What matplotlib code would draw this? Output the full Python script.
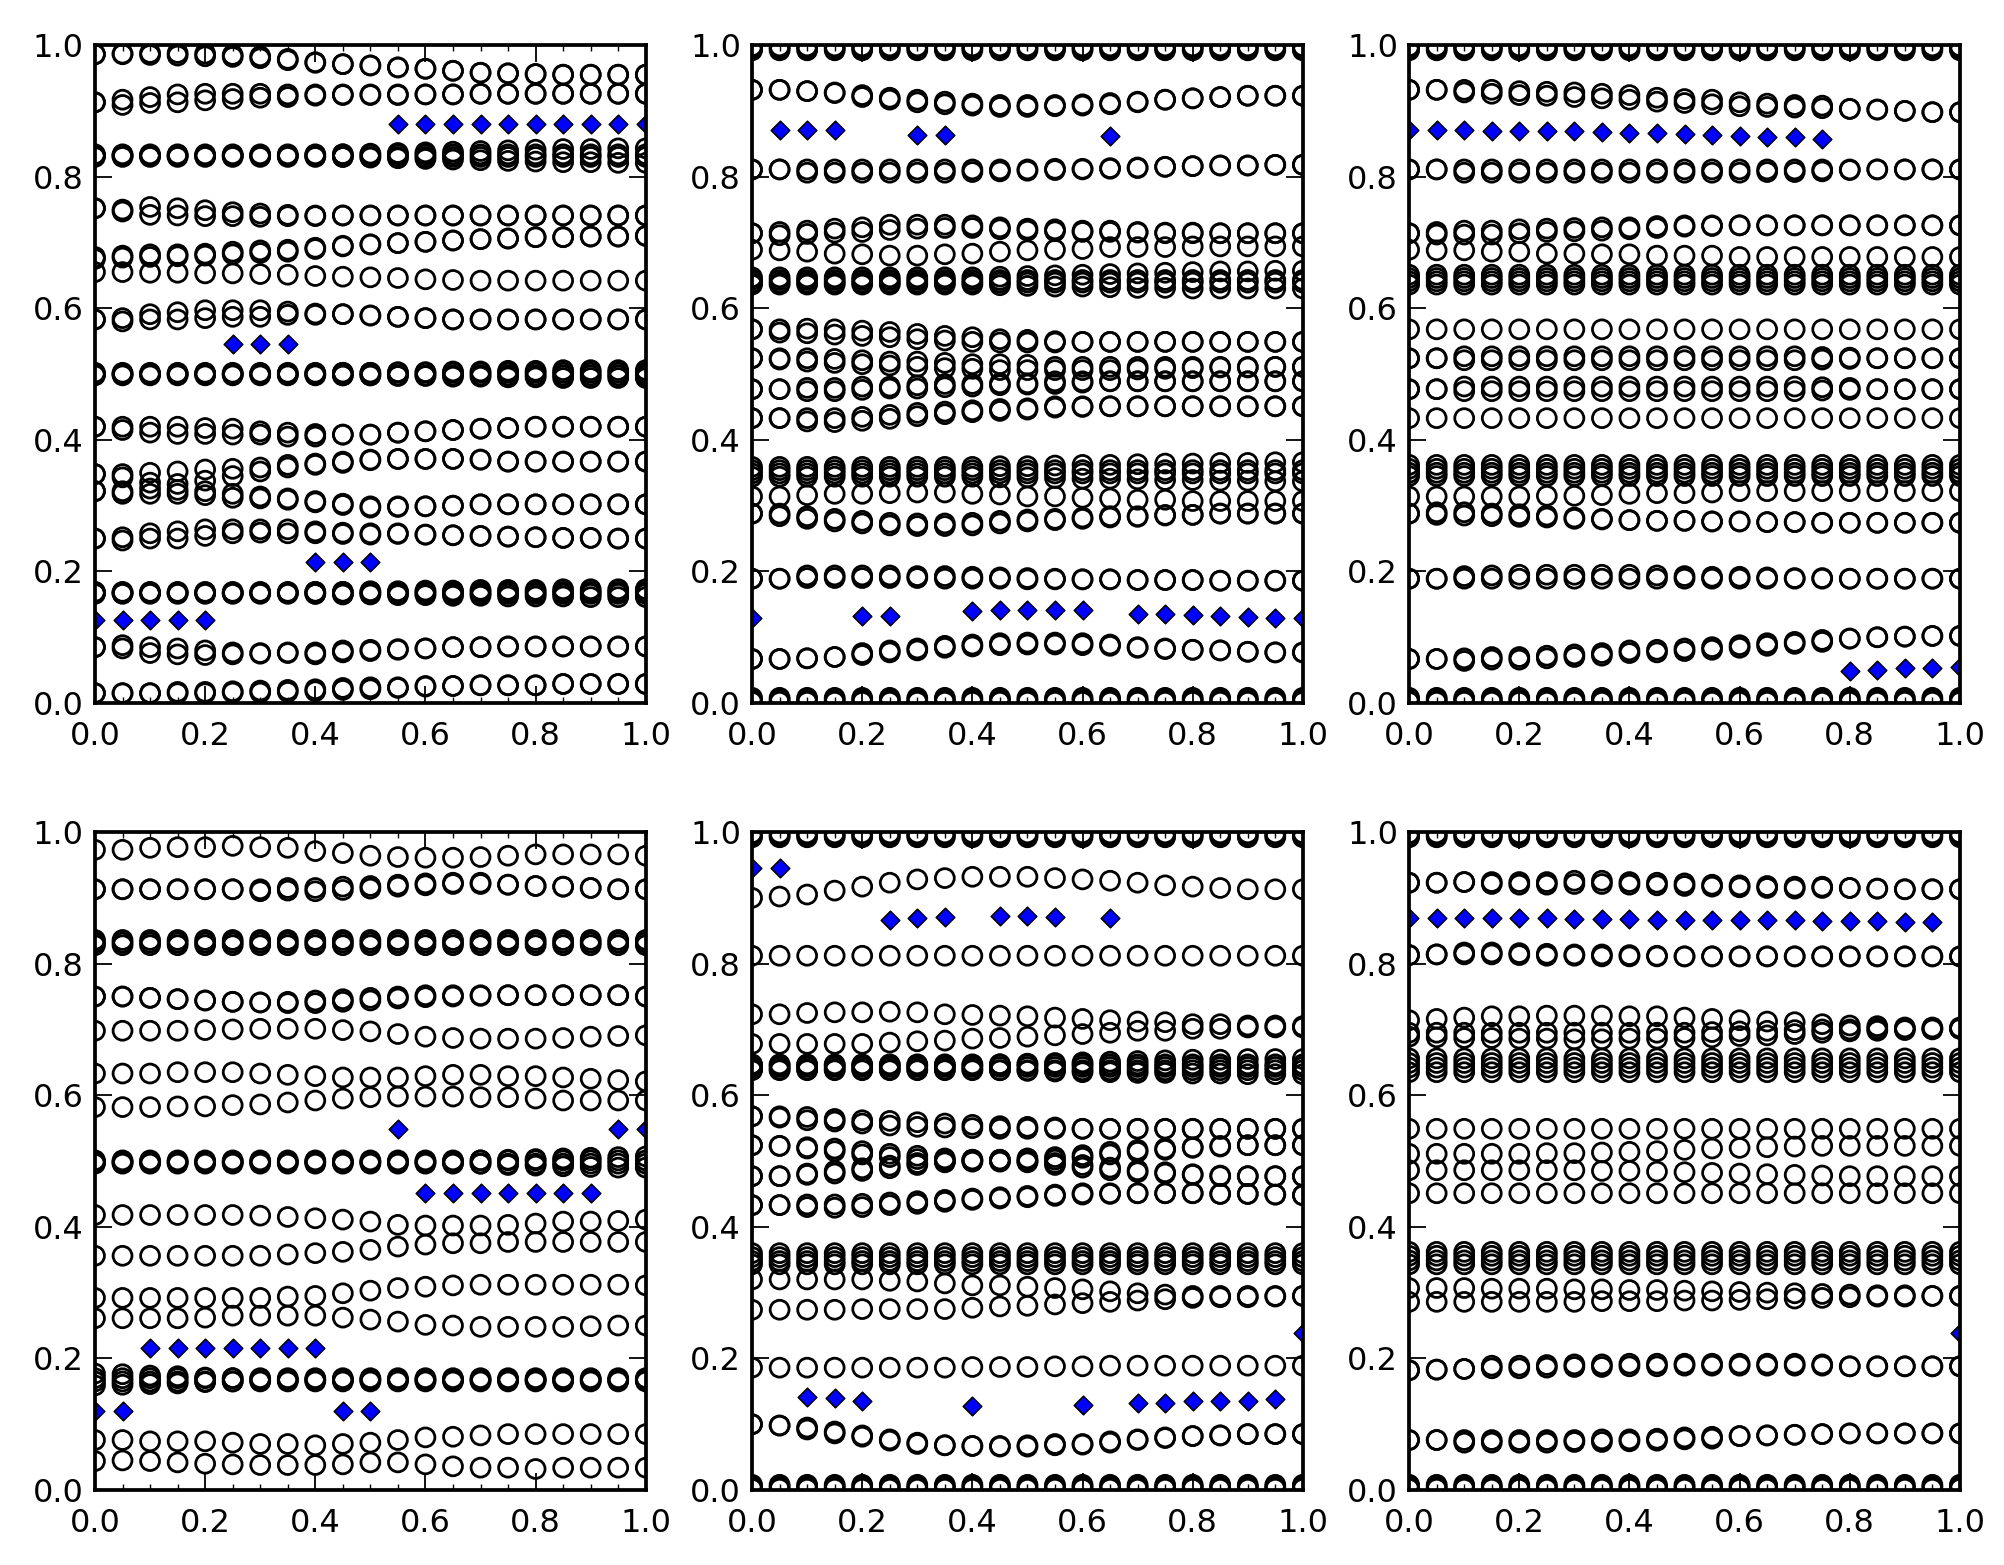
import matplotlib
matplotlib.use("Agg")
import matplotlib.pyplot as plt
from matplotlib.ticker import MultipleLocator

x_vals = [0.0, 0.05, 0.1, 0.15, 0.2, 0.25, 0.3, 0.35, 0.4, 0.45, 0.5,
          0.55, 0.6, 0.65, 0.7, 0.75, 0.8, 0.85, 0.9, 0.95, 1.0]

# rows of open circles at the edges of the right-hand panels
edge_rows = [[0.998] * 21, [0.995] * 21, [0.992] * 21,
             [0.002] * 21, [0.005] * 21, [0.008] * 21]

# ---- panel 1 (top left)
p1_rings = [
    [0.986, 0.986, 0.985, 0.984, 0.983, 0.982, 0.980, 0.977, 0.973, 0.971, 0.969, 0.966, 0.964, 0.961, 0.958, 0.957, 0.956, 0.955, 0.955, 0.955, 0.955],
    [0.986, 0.987, 0.988, 0.988, 0.987, 0.985, 0.983, 0.979, 0.974, 0.971, 0.969, 0.966, 0.964, 0.961, 0.958, 0.957, 0.956, 0.955, 0.955, 0.955, 0.955],
    [0.913, 0.917, 0.921, 0.925, 0.926, 0.926, 0.926, 0.925, 0.925, 0.925, 0.925, 0.925, 0.925, 0.925, 0.926, 0.926, 0.926, 0.926, 0.926, 0.926, 0.926],
    [0.913, 0.909, 0.912, 0.913, 0.916, 0.918, 0.920, 0.921, 0.923, 0.924, 0.924, 0.924, 0.925, 0.925, 0.926, 0.926, 0.926, 0.926, 0.926, 0.926, 0.926],
    [0.834] * 21,
    [0.830] * 21,
    [0.832, 0.832, 0.832, 0.832, 0.832, 0.832, 0.832, 0.832, 0.833, 0.834, 0.835, 0.836, 0.837, 0.838, 0.839, 0.840, 0.841, 0.842, 0.842, 0.843, 0.843],
    [0.832, 0.832, 0.832, 0.832, 0.832, 0.832, 0.832, 0.832, 0.831, 0.830, 0.829, 0.828, 0.827, 0.826, 0.825, 0.824, 0.823, 0.822, 0.822, 0.821, 0.821],
    [0.752, 0.750, 0.754, 0.752, 0.749, 0.746, 0.744, 0.742, 0.741, 0.741, 0.741, 0.741, 0.741, 0.741, 0.741, 0.741, 0.741, 0.741, 0.741, 0.741, 0.741],
    [0.752, 0.747, 0.742, 0.741, 0.740, 0.740, 0.739, 0.740, 0.740, 0.741, 0.741, 0.741, 0.741, 0.741, 0.741, 0.741, 0.741, 0.741, 0.741, 0.741, 0.741],
    [0.678, 0.680, 0.682, 0.682, 0.683, 0.686, 0.688, 0.689, 0.692, 0.695, 0.697, 0.699, 0.701, 0.703, 0.705, 0.706, 0.708, 0.708, 0.709, 0.709, 0.710],
    [0.675, 0.677, 0.678, 0.679, 0.680, 0.682, 0.684, 0.686, 0.690, 0.694, 0.697, 0.699, 0.701, 0.703, 0.705, 0.706, 0.708, 0.708, 0.709, 0.709, 0.710],
    [0.655, 0.655, 0.654, 0.654, 0.653, 0.653, 0.652, 0.651, 0.649, 0.648, 0.647, 0.646, 0.644, 0.643, 0.642, 0.642, 0.642, 0.642, 0.642, 0.642, 0.642],
    [0.583, 0.585, 0.591, 0.594, 0.597, 0.597, 0.597, 0.595, 0.592, 0.591, 0.589, 0.587, 0.585, 0.583, 0.583, 0.583, 0.583, 0.583, 0.583, 0.583, 0.583],
    [0.583, 0.580, 0.583, 0.583, 0.585, 0.587, 0.587, 0.590, 0.590, 0.591, 0.589, 0.587, 0.585, 0.583, 0.583, 0.583, 0.583, 0.583, 0.583, 0.583, 0.583],
    [0.502] * 21,
    [0.498] * 21,
    [0.500, 0.500, 0.500, 0.500, 0.500, 0.500, 0.500, 0.501, 0.501, 0.502, 0.502, 0.503, 0.503, 0.504, 0.504, 0.505, 0.505, 0.506, 0.506, 0.506, 0.506],
    [0.500, 0.500, 0.500, 0.500, 0.500, 0.500, 0.500, 0.499, 0.499, 0.498, 0.498, 0.497, 0.497, 0.496, 0.496, 0.495, 0.495, 0.494, 0.494, 0.494, 0.494],
    [0.420, 0.420, 0.420, 0.420, 0.418, 0.417, 0.413, 0.411, 0.409, 0.408, 0.408, 0.411, 0.413, 0.415, 0.417, 0.418, 0.420, 0.420, 0.420, 0.420, 0.420],
    [0.420, 0.415, 0.411, 0.409, 0.409, 0.408, 0.408, 0.405, 0.405, 0.408, 0.408, 0.411, 0.413, 0.415, 0.417, 0.418, 0.420, 0.420, 0.420, 0.420, 0.420],
    [0.348, 0.348, 0.350, 0.352, 0.355, 0.356, 0.358, 0.362, 0.364, 0.367, 0.370, 0.371, 0.371, 0.371, 0.370, 0.367, 0.367, 0.367, 0.367, 0.367, 0.367],
    [0.348, 0.343, 0.335, 0.333, 0.338, 0.345, 0.352, 0.358, 0.362, 0.365, 0.369, 0.371, 0.371, 0.371, 0.370, 0.367, 0.367, 0.367, 0.367, 0.367, 0.367],
    [0.322, 0.322, 0.326, 0.324, 0.322, 0.318, 0.314, 0.311, 0.307, 0.303, 0.299, 0.299, 0.299, 0.300, 0.302, 0.302, 0.302, 0.302, 0.302, 0.302, 0.302],
    [0.322, 0.318, 0.318, 0.318, 0.316, 0.312, 0.311, 0.309, 0.305, 0.301, 0.297, 0.298, 0.299, 0.300, 0.302, 0.302, 0.302, 0.302, 0.302, 0.302, 0.302],
    [0.250, 0.252, 0.258, 0.261, 0.264, 0.264, 0.264, 0.264, 0.261, 0.259, 0.258, 0.258, 0.256, 0.255, 0.254, 0.253, 0.252, 0.251, 0.251, 0.250, 0.250],
    [0.250, 0.247, 0.250, 0.250, 0.254, 0.258, 0.259, 0.258, 0.258, 0.257, 0.256, 0.257, 0.256, 0.255, 0.254, 0.253, 0.252, 0.251, 0.251, 0.250, 0.250],
    [0.169] * 21,
    [0.166] * 21,
    [0.168, 0.168, 0.168, 0.168, 0.168, 0.168, 0.168, 0.168, 0.169, 0.169, 0.170, 0.170, 0.171, 0.171, 0.172, 0.172, 0.172, 0.173, 0.173, 0.173, 0.173],
    [0.167, 0.167, 0.167, 0.167, 0.167, 0.167, 0.167, 0.167, 0.166, 0.165, 0.165, 0.164, 0.164, 0.163, 0.163, 0.162, 0.162, 0.162, 0.161, 0.161, 0.161],
    [0.085, 0.088, 0.085, 0.083, 0.080, 0.077, 0.076, 0.077, 0.077, 0.080, 0.081, 0.082, 0.083, 0.085, 0.085, 0.086, 0.086, 0.086, 0.086, 0.086, 0.086],
    [0.085, 0.083, 0.076, 0.074, 0.073, 0.074, 0.075, 0.076, 0.074, 0.077, 0.079, 0.081, 0.083, 0.085, 0.085, 0.086, 0.086, 0.086, 0.086, 0.086, 0.086],
    [0.015, 0.015, 0.015, 0.017, 0.017, 0.018, 0.019, 0.020, 0.021, 0.023, 0.024, 0.024, 0.026, 0.026, 0.027, 0.027, 0.027, 0.029, 0.029, 0.029, 0.029],
    [0.015, 0.015, 0.015, 0.015, 0.015, 0.016, 0.016, 0.017, 0.018, 0.020, 0.021, 0.023, 0.025, 0.026, 0.027, 0.027, 0.027, 0.029, 0.029, 0.029, 0.029],
]
p1_diamonds = [0.127, 0.127, 0.127, 0.127, 0.127, 0.545, 0.545, 0.545, 0.214, 0.214, 0.214,
               0.880, 0.880, 0.880, 0.880, 0.880, 0.880, 0.880, 0.880, 0.880, 0.880]

# ---- panel 2 (top middle)
p2_rings = edge_rows + [
    [0.932, 0.932, 0.930, 0.928, 0.924, 0.920, 0.917, 0.914, 0.911, 0.909, 0.909, 0.909, 0.910, 0.912, 0.914, 0.917, 0.919, 0.921, 0.923, 0.923, 0.923],
    [0.932, 0.932, 0.930, 0.927, 0.921, 0.917, 0.913, 0.910, 0.908, 0.906, 0.906, 0.907, 0.908, 0.910, 0.913, 0.917, 0.919, 0.921, 0.923, 0.923, 0.923],
    [0.811, 0.811, 0.811, 0.811, 0.811, 0.811, 0.811, 0.811, 0.811, 0.811, 0.811, 0.812, 0.812, 0.813, 0.814, 0.815, 0.816, 0.817, 0.817, 0.818, 0.818],
    [0.811, 0.811, 0.806, 0.806, 0.806, 0.806, 0.806, 0.806, 0.807, 0.808, 0.809, 0.810, 0.811, 0.812, 0.813, 0.815, 0.816, 0.817, 0.817, 0.818, 0.818],
    [0.714, 0.716, 0.718, 0.721, 0.723, 0.727, 0.727, 0.727, 0.726, 0.723, 0.721, 0.720, 0.718, 0.718, 0.716, 0.715, 0.715, 0.714, 0.714, 0.714, 0.714],
    [0.714, 0.711, 0.713, 0.715, 0.716, 0.719, 0.721, 0.722, 0.722, 0.720, 0.718, 0.717, 0.716, 0.716, 0.715, 0.714, 0.714, 0.714, 0.714, 0.714, 0.714],
    [0.689, 0.688, 0.686, 0.683, 0.682, 0.680, 0.680, 0.682, 0.683, 0.686, 0.688, 0.689, 0.690, 0.693, 0.693, 0.693, 0.694, 0.694, 0.694, 0.694, 0.694],
    [0.647, 0.647, 0.647, 0.647, 0.647, 0.647, 0.647, 0.647, 0.647, 0.648, 0.649, 0.650, 0.651, 0.652, 0.653, 0.654, 0.655, 0.656, 0.656, 0.657, 0.657],
    [0.643] * 21,
    [0.639] * 21,
    [0.636, 0.636, 0.636, 0.636, 0.636, 0.636, 0.636, 0.636, 0.636, 0.635, 0.634, 0.633, 0.633, 0.632, 0.631, 0.631, 0.630, 0.630, 0.630, 0.630, 0.630],
    [0.568, 0.568, 0.569, 0.568, 0.566, 0.564, 0.561, 0.558, 0.556, 0.553, 0.552, 0.550, 0.549, 0.549, 0.549, 0.549, 0.549, 0.549, 0.549, 0.549, 0.549],
    [0.568, 0.563, 0.562, 0.560, 0.558, 0.556, 0.553, 0.551, 0.549, 0.548, 0.548, 0.548, 0.549, 0.549, 0.549, 0.549, 0.549, 0.549, 0.549, 0.549, 0.549],
    [0.524, 0.524, 0.524, 0.523, 0.521, 0.519, 0.519, 0.517, 0.515, 0.515, 0.514, 0.511, 0.511, 0.511, 0.511, 0.511, 0.511, 0.511, 0.511, 0.511, 0.511],
    [0.524, 0.522, 0.519, 0.517, 0.515, 0.513, 0.511, 0.509, 0.508, 0.506, 0.506, 0.506, 0.506, 0.506, 0.507, 0.508, 0.509, 0.510, 0.510, 0.511, 0.511],
    [0.477, 0.477, 0.479, 0.479, 0.481, 0.481, 0.483, 0.485, 0.485, 0.486, 0.486, 0.489, 0.489, 0.489, 0.489, 0.489, 0.489, 0.489, 0.489, 0.489, 0.489],
    [0.477, 0.477, 0.474, 0.474, 0.476, 0.478, 0.478, 0.480, 0.481, 0.483, 0.484, 0.485, 0.487, 0.489, 0.489, 0.489, 0.489, 0.489, 0.489, 0.489, 0.489],
    [0.433, 0.433, 0.433, 0.433, 0.435, 0.438, 0.441, 0.443, 0.445, 0.447, 0.448, 0.451, 0.451, 0.451, 0.451, 0.451, 0.451, 0.451, 0.451, 0.451, 0.451],
    [0.433, 0.433, 0.428, 0.427, 0.429, 0.432, 0.436, 0.439, 0.442, 0.444, 0.446, 0.449, 0.450, 0.451, 0.451, 0.451, 0.451, 0.451, 0.451, 0.451, 0.451],
    [0.359, 0.359, 0.359, 0.359, 0.359, 0.359, 0.359, 0.359, 0.359, 0.360, 0.360, 0.361, 0.362, 0.362, 0.363, 0.364, 0.364, 0.365, 0.365, 0.366, 0.366],
    [0.354] * 21,
    [0.349] * 21,
    [0.344, 0.344, 0.344, 0.344, 0.344, 0.344, 0.344, 0.344, 0.344, 0.343, 0.343, 0.342, 0.341, 0.341, 0.340, 0.339, 0.339, 0.338, 0.338, 0.337, 0.337],
    [0.314, 0.314, 0.316, 0.318, 0.318, 0.319, 0.320, 0.320, 0.318, 0.317, 0.314, 0.314, 0.312, 0.311, 0.309, 0.309, 0.307, 0.307, 0.307, 0.307, 0.307],
    [0.288, 0.288, 0.284, 0.280, 0.277, 0.274, 0.273, 0.273, 0.274, 0.277, 0.279, 0.280, 0.282, 0.284, 0.284, 0.286, 0.286, 0.288, 0.288, 0.288, 0.288],
    [0.288, 0.284, 0.280, 0.276, 0.273, 0.270, 0.269, 0.269, 0.270, 0.273, 0.276, 0.278, 0.280, 0.282, 0.283, 0.285, 0.286, 0.288, 0.288, 0.288, 0.288],
    [0.189, 0.189, 0.190, 0.190, 0.190, 0.190, 0.190, 0.189, 0.189, 0.189, 0.188, 0.188, 0.188, 0.188, 0.187, 0.187, 0.187, 0.186, 0.186, 0.186, 0.186],
    [0.189, 0.189, 0.194, 0.194, 0.194, 0.194, 0.193, 0.193, 0.192, 0.191, 0.190, 0.189, 0.188, 0.188, 0.187, 0.187, 0.187, 0.186, 0.186, 0.186, 0.186],
    [0.067, 0.067, 0.068, 0.070, 0.076, 0.080, 0.083, 0.087, 0.089, 0.091, 0.092, 0.092, 0.091, 0.089, 0.085, 0.083, 0.081, 0.080, 0.078, 0.077, 0.077],
    [0.067, 0.067, 0.068, 0.070, 0.073, 0.077, 0.080, 0.084, 0.086, 0.088, 0.089, 0.089, 0.088, 0.087, 0.084, 0.082, 0.081, 0.080, 0.078, 0.077, 0.077],
]
p2_diamonds = [0.129, 0.871, 0.871, 0.871, 0.133, 0.133, 0.864, 0.864, 0.140, 0.141, 0.142,
               0.141, 0.141, 0.862, 0.136, 0.135, 0.134, 0.133, 0.131, 0.130, 0.130]

# ---- panel 3 (top right)
p3_rings = edge_rows + [
    [0.932, 0.932, 0.932, 0.932, 0.930, 0.929, 0.928, 0.926, 0.924, 0.920, 0.918, 0.917, 0.913, 0.911, 0.909, 0.908, 0.903, 0.902, 0.900, 0.898, 0.898],
    [0.932, 0.932, 0.928, 0.926, 0.924, 0.923, 0.921, 0.919, 0.917, 0.914, 0.912, 0.910, 0.907, 0.906, 0.905, 0.904, 0.903, 0.902, 0.900, 0.898, 0.898],
    [0.811] * 21,
    [0.811, 0.811, 0.806, 0.806, 0.806, 0.806, 0.806, 0.806, 0.806, 0.806, 0.806, 0.806, 0.806, 0.807, 0.807, 0.808, 0.810, 0.811, 0.811, 0.811, 0.811],
    [0.714, 0.716, 0.718, 0.718, 0.720, 0.721, 0.722, 0.723, 0.723, 0.725, 0.726, 0.726, 0.726, 0.726, 0.726, 0.726, 0.726, 0.726, 0.726, 0.726, 0.726],
    [0.714, 0.712, 0.712, 0.712, 0.714, 0.716, 0.717, 0.718, 0.720, 0.722, 0.724, 0.725, 0.726, 0.726, 0.726, 0.726, 0.726, 0.726, 0.726, 0.726, 0.726],
    [0.689, 0.688, 0.688, 0.686, 0.686, 0.683, 0.683, 0.682, 0.682, 0.680, 0.680, 0.680, 0.678, 0.678, 0.678, 0.678, 0.678, 0.678, 0.678, 0.678, 0.678],
    [0.651] * 21,
    [0.646] * 21,
    [0.641] * 21,
    [0.636] * 21,
    [0.568] * 21,
    [0.524, 0.524, 0.527, 0.527, 0.527, 0.527, 0.527, 0.527, 0.527, 0.527, 0.527, 0.527, 0.527, 0.527, 0.527, 0.526, 0.525, 0.524, 0.524, 0.524, 0.524],
    [0.524, 0.524, 0.521, 0.521, 0.521, 0.521, 0.521, 0.521, 0.521, 0.521, 0.521, 0.521, 0.521, 0.521, 0.521, 0.522, 0.523, 0.524, 0.524, 0.524, 0.524],
    [0.477, 0.477, 0.481, 0.481, 0.481, 0.481, 0.481, 0.481, 0.481, 0.481, 0.481, 0.481, 0.481, 0.481, 0.481, 0.480, 0.479, 0.477, 0.477, 0.477, 0.477],
    [0.477, 0.477, 0.474, 0.474, 0.474, 0.474, 0.474, 0.474, 0.474, 0.474, 0.474, 0.474, 0.474, 0.474, 0.474, 0.475, 0.476, 0.477, 0.477, 0.477, 0.477],
    [0.433] * 21,
    [0.362] * 21,
    [0.356] * 21,
    [0.350] * 21,
    [0.345] * 21,
    [0.314, 0.314, 0.314, 0.314, 0.314, 0.315, 0.315, 0.316, 0.318, 0.319, 0.319, 0.320, 0.322, 0.322, 0.322, 0.322, 0.322, 0.322, 0.322, 0.322, 0.322],
    [0.288, 0.286, 0.285, 0.284, 0.283, 0.282, 0.280, 0.279, 0.278, 0.277, 0.277, 0.276, 0.276, 0.275, 0.275, 0.274, 0.274, 0.274, 0.274, 0.274, 0.274],
    [0.288, 0.290, 0.290, 0.288, 0.287, 0.285, 0.282, 0.280, 0.278, 0.277, 0.277, 0.276, 0.276, 0.275, 0.275, 0.274, 0.274, 0.274, 0.274, 0.274, 0.274],
    [0.189] * 21,
    [0.189, 0.189, 0.193, 0.194, 0.195, 0.195, 0.195, 0.195, 0.195, 0.194, 0.193, 0.192, 0.192, 0.191, 0.190, 0.190, 0.189, 0.189, 0.189, 0.189, 0.189],
    [0.067, 0.067, 0.068, 0.070, 0.070, 0.072, 0.074, 0.076, 0.080, 0.081, 0.083, 0.085, 0.088, 0.091, 0.093, 0.096, 0.098, 0.100, 0.101, 0.102, 0.102],
    [0.067, 0.067, 0.064, 0.066, 0.066, 0.068, 0.070, 0.072, 0.076, 0.077, 0.079, 0.081, 0.084, 0.087, 0.090, 0.093, 0.098, 0.100, 0.101, 0.102, 0.102],
]
p3_diamonds = [0.871, 0.871, 0.871, 0.870, 0.870, 0.869, 0.869, 0.868, 0.867, 0.866, 0.865,
               0.864, 0.862, 0.861, 0.860, 0.858, 0.049, 0.051, 0.053, 0.054, 0.055]

# ---- panel 4 (bottom left)
p4_rings = [
    [0.973, 0.973, 0.976, 0.977, 0.977, 0.979, 0.977, 0.976, 0.971, 0.968, 0.964, 0.962, 0.961, 0.961, 0.962, 0.964, 0.966, 0.966, 0.966, 0.966, 0.964],
    [0.913, 0.913, 0.913, 0.913, 0.913, 0.913, 0.913, 0.915, 0.915, 0.917, 0.918, 0.920, 0.922, 0.923, 0.923, 0.920, 0.918, 0.917, 0.915, 0.913, 0.913],
    [0.913, 0.913, 0.913, 0.913, 0.913, 0.913, 0.910, 0.911, 0.910, 0.912, 0.914, 0.917, 0.919, 0.921, 0.921, 0.920, 0.918, 0.917, 0.915, 0.913, 0.913],
    [0.836] * 21,
    [0.832] * 21,
    [0.828] * 21,
    [0.750, 0.750, 0.748, 0.746, 0.744, 0.742, 0.741, 0.742, 0.744, 0.746, 0.748, 0.750, 0.752, 0.752, 0.752, 0.752, 0.752, 0.752, 0.752, 0.752, 0.750],
    [0.750, 0.750, 0.748, 0.746, 0.744, 0.742, 0.741, 0.740, 0.740, 0.742, 0.744, 0.747, 0.749, 0.750, 0.751, 0.752, 0.752, 0.752, 0.752, 0.752, 0.750],
    [0.698, 0.698, 0.698, 0.698, 0.699, 0.700, 0.701, 0.701, 0.701, 0.699, 0.697, 0.693, 0.689, 0.687, 0.686, 0.686, 0.686, 0.687, 0.689, 0.690, 0.691],
    [0.633, 0.633, 0.633, 0.635, 0.635, 0.635, 0.633, 0.631, 0.629, 0.627, 0.627, 0.627, 0.629, 0.631, 0.631, 0.629, 0.629, 0.627, 0.625, 0.623, 0.621],
    [0.582, 0.582, 0.582, 0.583, 0.583, 0.585, 0.586, 0.589, 0.592, 0.595, 0.597, 0.598, 0.598, 0.598, 0.597, 0.597, 0.595, 0.592, 0.592, 0.592, 0.592],
    [0.501] * 21,
    [0.496] * 21,
    [0.499, 0.499, 0.499, 0.499, 0.499, 0.499, 0.499, 0.499, 0.499, 0.499, 0.499, 0.499, 0.499, 0.500, 0.501, 0.502, 0.503, 0.504, 0.505, 0.506, 0.507],
    [0.498, 0.498, 0.498, 0.498, 0.498, 0.498, 0.498, 0.498, 0.498, 0.498, 0.498, 0.498, 0.498, 0.497, 0.496, 0.494, 0.493, 0.492, 0.491, 0.490, 0.490],
    [0.418, 0.418, 0.418, 0.418, 0.418, 0.418, 0.417, 0.415, 0.413, 0.411, 0.408, 0.403, 0.402, 0.402, 0.402, 0.403, 0.405, 0.408, 0.408, 0.409, 0.411],
    [0.356, 0.356, 0.356, 0.356, 0.356, 0.356, 0.356, 0.358, 0.360, 0.362, 0.365, 0.370, 0.373, 0.375, 0.375, 0.377, 0.377, 0.377, 0.377, 0.377, 0.377],
    [0.292, 0.292, 0.292, 0.292, 0.292, 0.292, 0.292, 0.294, 0.295, 0.299, 0.303, 0.307, 0.309, 0.311, 0.312, 0.312, 0.312, 0.312, 0.312, 0.312, 0.311],
    [0.261, 0.261, 0.261, 0.261, 0.262, 0.265, 0.265, 0.265, 0.265, 0.262, 0.259, 0.256, 0.251, 0.250, 0.248, 0.248, 0.248, 0.248, 0.249, 0.250, 0.250],
    [0.170] * 21,
    [0.165] * 21,
    [0.177, 0.176, 0.174, 0.173, 0.171, 0.170, 0.169, 0.168, 0.168, 0.168, 0.168, 0.168, 0.168, 0.168, 0.168, 0.168, 0.168, 0.168, 0.168, 0.168, 0.168],
    [0.159, 0.160, 0.161, 0.162, 0.164, 0.165, 0.166, 0.167, 0.167, 0.167, 0.167, 0.167, 0.167, 0.167, 0.167, 0.167, 0.167, 0.167, 0.167, 0.167, 0.167],
    [0.076, 0.076, 0.074, 0.074, 0.074, 0.072, 0.070, 0.070, 0.068, 0.070, 0.072, 0.076, 0.080, 0.081, 0.083, 0.085, 0.085, 0.085, 0.085, 0.085, 0.085],
    [0.044, 0.045, 0.044, 0.042, 0.040, 0.039, 0.038, 0.038, 0.038, 0.039, 0.042, 0.042, 0.039, 0.036, 0.034, 0.034, 0.032, 0.034, 0.034, 0.034, 0.034],
]
p4_diamonds = [0.120, 0.120, 0.216, 0.216, 0.216, 0.216, 0.216, 0.216, 0.216, 0.120, 0.120,
               0.548, 0.451, 0.451, 0.451, 0.451, 0.451, 0.451, 0.451, 0.548, 0.548]

# ---- panel 5 (bottom middle)
p5_rings = edge_rows + [
    [0.900, 0.902, 0.905, 0.911, 0.917, 0.923, 0.928, 0.930, 0.932, 0.932, 0.932, 0.930, 0.928, 0.926, 0.923, 0.919, 0.917, 0.915, 0.913, 0.913, 0.913],
    [0.812] * 21,
    [0.723, 0.723, 0.725, 0.726, 0.726, 0.727, 0.726, 0.723, 0.722, 0.721, 0.720, 0.718, 0.716, 0.714, 0.712, 0.711, 0.708, 0.708, 0.706, 0.706, 0.705],
    [0.678, 0.678, 0.678, 0.678, 0.678, 0.680, 0.682, 0.683, 0.686, 0.687, 0.689, 0.691, 0.693, 0.695, 0.698, 0.698, 0.701, 0.701, 0.703, 0.703, 0.703],
    [0.647] * 21,
    [0.643] * 21,
    [0.638] * 21,
    [0.646, 0.646, 0.646, 0.646, 0.646, 0.646, 0.646, 0.646, 0.646, 0.647, 0.648, 0.649, 0.650, 0.651, 0.652, 0.653, 0.654, 0.654, 0.655, 0.655, 0.655],
    [0.639, 0.639, 0.639, 0.639, 0.639, 0.639, 0.639, 0.639, 0.639, 0.638, 0.637, 0.636, 0.635, 0.635, 0.634, 0.634, 0.633, 0.633, 0.632, 0.632, 0.632],
    [0.568, 0.568, 0.567, 0.564, 0.562, 0.561, 0.559, 0.557, 0.555, 0.553, 0.552, 0.551, 0.549, 0.549, 0.549, 0.549, 0.549, 0.549, 0.549, 0.549, 0.549],
    [0.568, 0.566, 0.562, 0.560, 0.557, 0.554, 0.552, 0.551, 0.550, 0.549, 0.549, 0.549, 0.549, 0.549, 0.549, 0.549, 0.549, 0.549, 0.549, 0.549, 0.549],
    [0.524, 0.523, 0.521, 0.519, 0.515, 0.511, 0.508, 0.504, 0.502, 0.502, 0.504, 0.506, 0.509, 0.514, 0.517, 0.519, 0.521, 0.523, 0.524, 0.524, 0.524],
    [0.524, 0.523, 0.519, 0.515, 0.510, 0.506, 0.503, 0.500, 0.499, 0.499, 0.500, 0.502, 0.505, 0.510, 0.514, 0.517, 0.520, 0.522, 0.524, 0.524, 0.524],
    [0.477, 0.477, 0.479, 0.481, 0.485, 0.489, 0.494, 0.498, 0.500, 0.500, 0.498, 0.494, 0.490, 0.486, 0.483, 0.481, 0.479, 0.477, 0.477, 0.477, 0.477],
    [0.477, 0.477, 0.481, 0.485, 0.489, 0.493, 0.497, 0.500, 0.502, 0.502, 0.500, 0.497, 0.494, 0.490, 0.486, 0.483, 0.480, 0.478, 0.477, 0.477, 0.477],
    [0.433, 0.433, 0.434, 0.434, 0.435, 0.437, 0.439, 0.441, 0.443, 0.445, 0.447, 0.449, 0.451, 0.451, 0.451, 0.451, 0.451, 0.450, 0.450, 0.449, 0.448],
    [0.433, 0.433, 0.430, 0.429, 0.430, 0.433, 0.435, 0.438, 0.441, 0.443, 0.445, 0.447, 0.449, 0.450, 0.451, 0.451, 0.451, 0.450, 0.450, 0.449, 0.448],
    [0.360] * 21,
    [0.354] * 21,
    [0.348] * 21,
    [0.343] * 21,
    [0.320, 0.320, 0.320, 0.320, 0.320, 0.318, 0.317, 0.314, 0.311, 0.311, 0.309, 0.307, 0.305, 0.302, 0.299, 0.297, 0.295, 0.295, 0.295, 0.295, 0.295],
    [0.274, 0.274, 0.274, 0.274, 0.275, 0.275, 0.275, 0.275, 0.277, 0.279, 0.280, 0.282, 0.284, 0.286, 0.288, 0.290, 0.292, 0.293, 0.293, 0.294, 0.295],
    [0.186, 0.186, 0.186, 0.186, 0.186, 0.186, 0.186, 0.186, 0.187, 0.187, 0.187, 0.188, 0.188, 0.189, 0.189, 0.189, 0.189, 0.189, 0.189, 0.189, 0.189],
    [0.100, 0.098, 0.095, 0.089, 0.083, 0.077, 0.072, 0.068, 0.067, 0.067, 0.068, 0.070, 0.070, 0.074, 0.077, 0.080, 0.082, 0.083, 0.085, 0.085, 0.085],
    [0.100, 0.098, 0.092, 0.086, 0.081, 0.075, 0.070, 0.068, 0.067, 0.066, 0.066, 0.068, 0.069, 0.072, 0.076, 0.079, 0.082, 0.083, 0.085, 0.085, 0.085],
]
p5_diamonds = [0.945, 0.946, 0.142, 0.140, 0.136, 0.867, 0.870, 0.871, 0.127, 0.873, 0.873,
               0.871, 0.129, 0.869, 0.133, 0.133, 0.135, 0.136, 0.136, 0.138, 0.239]

# ---- panel 6 (bottom right)
p6_rings = edge_rows + [
    [0.923, 0.923, 0.924, 0.924, 0.924, 0.924, 0.926, 0.926, 0.924, 0.923, 0.922, 0.920, 0.919, 0.918, 0.917, 0.917, 0.915, 0.914, 0.913, 0.913, 0.913],
    [0.923, 0.923, 0.924, 0.921, 0.920, 0.920, 0.921, 0.921, 0.920, 0.919, 0.918, 0.917, 0.916, 0.915, 0.914, 0.915, 0.915, 0.914, 0.913, 0.913, 0.913],
    [0.813, 0.814, 0.814, 0.814, 0.813, 0.812, 0.812, 0.811, 0.811, 0.811, 0.811, 0.811, 0.811, 0.811, 0.811, 0.811, 0.811, 0.811, 0.811, 0.811, 0.811],
    [0.813, 0.814, 0.817, 0.817, 0.816, 0.815, 0.814, 0.814, 0.813, 0.812, 0.811, 0.811, 0.811, 0.811, 0.811, 0.811, 0.811, 0.811, 0.811, 0.811, 0.811],
    [0.714, 0.716, 0.718, 0.720, 0.720, 0.721, 0.721, 0.721, 0.720, 0.720, 0.718, 0.716, 0.714, 0.712, 0.711, 0.708, 0.706, 0.705, 0.703, 0.703, 0.703],
    [0.695, 0.695, 0.695, 0.695, 0.695, 0.695, 0.695, 0.695, 0.695, 0.695, 0.695, 0.696, 0.697, 0.698, 0.699, 0.700, 0.700, 0.701, 0.701, 0.701, 0.701],
    [0.689, 0.688, 0.687, 0.687, 0.686, 0.686, 0.685, 0.685, 0.686, 0.686, 0.687, 0.688, 0.690, 0.691, 0.693, 0.695, 0.697, 0.698, 0.699, 0.700, 0.701],
    [0.656] * 21,
    [0.649] * 21,
    [0.642] * 21,
    [0.635] * 21,
    [0.549] * 21,
    [0.511, 0.511, 0.511, 0.511, 0.511, 0.512, 0.512, 0.513, 0.514, 0.515, 0.517, 0.519, 0.520, 0.521, 0.522, 0.523, 0.523, 0.523, 0.523, 0.523, 0.523],
    [0.486, 0.486, 0.486, 0.486, 0.486, 0.486, 0.486, 0.485, 0.485, 0.484, 0.483, 0.482, 0.481, 0.480, 0.479, 0.478, 0.477, 0.477, 0.477, 0.477, 0.477],
    [0.451] * 21,
    [0.362] * 21,
    [0.356] * 21,
    [0.349] * 21,
    [0.343] * 21,
    [0.307, 0.307, 0.307, 0.306, 0.306, 0.306, 0.305, 0.305, 0.304, 0.304, 0.303, 0.302, 0.301, 0.300, 0.299, 0.298, 0.297, 0.296, 0.296, 0.295, 0.295],
    [0.286, 0.286, 0.286, 0.286, 0.286, 0.286, 0.286, 0.287, 0.287, 0.287, 0.288, 0.288, 0.289, 0.290, 0.291, 0.292, 0.293, 0.294, 0.294, 0.295, 0.295],
    [0.182, 0.183, 0.184, 0.185, 0.185, 0.186, 0.187, 0.187, 0.188, 0.188, 0.189, 0.189, 0.189, 0.189, 0.189, 0.189, 0.188, 0.188, 0.188, 0.188, 0.188],
    [0.182, 0.183, 0.184, 0.189, 0.189, 0.190, 0.191, 0.191, 0.192, 0.192, 0.192, 0.192, 0.192, 0.192, 0.192, 0.191, 0.188, 0.188, 0.188, 0.188, 0.188],
    [0.076, 0.076, 0.076, 0.076, 0.076, 0.076, 0.076, 0.077, 0.077, 0.078, 0.080, 0.081, 0.082, 0.083, 0.084, 0.085, 0.086, 0.086, 0.086, 0.086, 0.086],
    [0.076, 0.076, 0.072, 0.072, 0.072, 0.072, 0.073, 0.073, 0.074, 0.075, 0.077, 0.078, 0.082, 0.083, 0.084, 0.085, 0.086, 0.086, 0.086, 0.086, 0.086],
]
p6_diamonds = [0.869, 0.869, 0.869, 0.869, 0.869, 0.869, 0.868, 0.868, 0.868, 0.867, 0.867,
               0.867, 0.866, 0.866, 0.866, 0.865, 0.865, 0.865, 0.864, 0.864, 0.239]

panels = [(p1_rings, p1_diamonds), (p2_rings, p2_diamonds), (p3_rings, p3_diamonds),
          (p4_rings, p4_diamonds), (p5_rings, p5_diamonds), (p6_rings, p6_diamonds)]

fig, axes = plt.subplots(2, 3, figsize=(20.04, 15.65), dpi=100)
fig.patch.set_facecolor('white')
plt.subplots_adjust(left=0.0474, right=0.978, bottom=0.0479, top=0.9712,
                    wspace=0.193, hspace=0.196)

for ax, (rings, diamonds) in zip(axes.flat, panels):
    for row in rings:
        ax.scatter(x_vals, row, s=185, facecolors='none', edgecolors='black', linewidths=2.0)
    ax.scatter(x_vals, diamonds, s=90, marker='D', facecolors='#0000ff',
               edgecolors='black', linewidths=1.1)
    ax.set_xlim(0, 1)
    ax.set_ylim(0, 1)
    ax.xaxis.set_major_locator(MultipleLocator(0.2))
    ax.xaxis.set_minor_locator(MultipleLocator(0.05))
    ax.yaxis.set_major_locator(MultipleLocator(0.2))
    ax.tick_params(which='both', direction='in', top=True, right=True)
    ax.tick_params(which='major', length=12, width=1.3, labelsize=23)
    ax.tick_params(axis='x', which='major', pad=13)
    ax.tick_params(axis='y', which='major', pad=8)
    ax.tick_params(which='minor', length=4.5, width=1.0)
    for sp in ax.spines.values():
        sp.set_linewidth(2.7)

fig.savefig('out.png', dpi=100, facecolor='white')
